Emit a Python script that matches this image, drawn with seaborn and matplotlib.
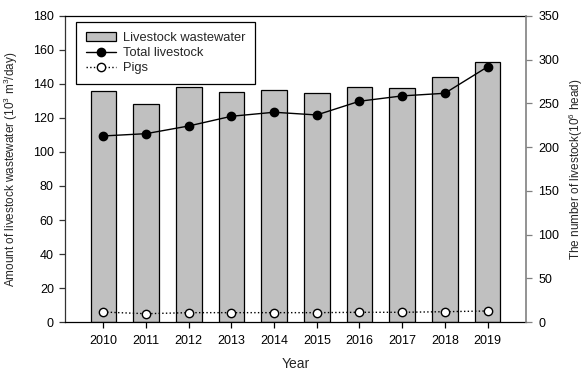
import matplotlib
matplotlib.use("Agg")
import matplotlib.pyplot as plt
from matplotlib.patches import Patch
from matplotlib.lines import Line2D
import numpy as np
import pandas as pd
import seaborn as sns

# Annual livestock wastewater (10^3 m^3/day) and livestock counts (10^6 head)
years = ["2010", "2011", "2012", "2013", "2014", "2015", "2016", "2017", "2018", "2019"]
wastewater = [135.7, 128.0, 138.0, 135.1, 136.6, 134.5, 138.0, 137.6, 144.3, 153.1]
total_livestock = [212.8, 215.4, 224.2, 235.3, 239.9, 236.8, 252.5, 258.6, 261.6, 291.8]
pigs = [11.4, 9.5, 10.7, 10.7, 10.7, 10.7, 11.1, 11.1, 11.8, 12.6]

left_ticks = [0, 20, 40, 60, 80, 100, 120, 140, 160, 180]
right_ticks = [0, 50, 100, 150, 200, 250, 300, 350]

df = pd.DataFrame({"Year": years, "Wastewater": wastewater,
                   "Total": total_livestock, "Pigs": pigs})

sns.set_theme(style="ticks")
plt.rcParams["font.family"] = ["Liberation Sans", "DejaVu Sans"]
plt.rcParams["mathtext.default"] = "regular"

fig = plt.figure(figsize=(5.85, 3.70), dpi=100)
ax = fig.add_axes([0.111, 0.1297, 0.788, 0.8271])

bar_color = "#c0c0c0"
sns.barplot(data=df, x="Year", y="Wastewater", ax=ax, color=bar_color,
            edgecolor="black", linewidth=0.9, width=0.6, saturation=1, zorder=2)

ax2 = ax.twinx()
sns.pointplot(data=df, x="Year", y="Total", ax=ax2, color="black",
              markers="o", linestyles="-", linewidth=1.0, markersize=6, zorder=3)
sns.pointplot(data=df, x="Year", y="Pigs", ax=ax2, color="black",
              markers="o", linestyles=":", linewidth=1.0, markersize=6, zorder=3)
# Pigs drawn with open (white) markers
for ln in ax2.lines[1:]:
    ln.set_markerfacecolor("white")
    ln.set_markeredgecolor("black")
    ln.set_markeredgewidth(1.0)
ax2.lines[0].set_markeredgewidth(1.0)

ax.set_xlim(-0.9, 9.9)
ax2.set_xlim(-0.9, 9.9)
ax.set_ylim(0, 180)
ax2.set_ylim(0, 350)
ax.set_yticks(left_ticks)
ax2.set_yticks(right_ticks)

fs = 9
ax.tick_params(axis="both", labelsize=fs, length=4, width=0.9, colors="#333333",
               labelcolor="black", pad=4)
ax.tick_params(axis="x", colors="black", labelcolor="black", pad=5)
ax2.tick_params(axis="y", labelsize=fs, length=4, width=0.9, colors="#808080",
                labelcolor="black", pad=5)

for side in ["top", "bottom"]:
    ax.spines[side].set_visible(True)
    ax.spines[side].set_color("black")
    ax.spines[side].set_linewidth(0.9)
ax.spines["left"].set_color("#333333")
ax.spines["left"].set_linewidth(0.9)
ax2.spines["right"].set_color("#808080")
ax2.spines["right"].set_linewidth(1.2)
for side in ["top", "bottom", "left"]:
    ax2.spines[side].set_visible(False)
ax.spines["right"].set_visible(False)

ax.set_xlabel("Year", fontsize=10)
ax.xaxis.set_label_coords(0.5, -0.115)
ax.set_ylabel("Amount of livestock wastewater (10$^3$ m$^3$/day)", fontsize=8.5)
ax.yaxis.set_label_coords(-0.098, 0.5)
ax2.set_ylabel("The number of livestock(10$^6$ head)", fontsize=8.5)
ax2.yaxis.set_label_coords(1.088, 0.5)

handles = [
    Patch(facecolor=bar_color, edgecolor="black", linewidth=0.9),
    Line2D([], [], color="black", marker="o", markersize=6, linewidth=1.0),
    Line2D([], [], color="black", marker="o", markersize=6, linewidth=1.0,
           linestyle=":", markerfacecolor="white", markeredgecolor="black"),
]
labels = ["Livestock wastewater", "Total livestock", "Pigs"]
leg = ax2.legend(handles, labels, loc="upper left", bbox_to_anchor=(0.025, 0.98),
                 borderaxespad=0, fontsize=9.3, frameon=True, fancybox=False,
                 edgecolor="black", framealpha=1, handlelength=2.3,
                 handletextpad=0.55, labelspacing=0.25, borderpad=0.75)
leg.get_frame().set_linewidth(0.9)

fig.savefig("out.png", dpi=100)
